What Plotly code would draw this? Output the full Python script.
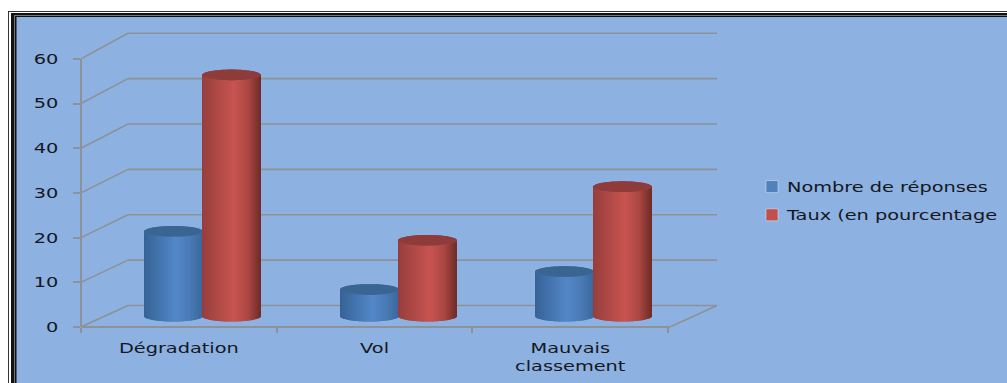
import math
import plotly.graph_objects as go

categories = ["Dégradation", "Vol", "Mauvais<br>classement"]
reponses = [19, 6, 10]
taux = [54, 17, 29]
y_ticks = [0, 10, 20, 30, 40, 50, 60]

WIDTH, HEIGHT = 1007, 383
LEFT, RIGHT, TOP, BOTTOM = 81, 717, 30, 327
UNIT_X = 195.7            # pixels per category
UNIT_Y = 4.47             # pixels per value unit

x_lo = -0.5
x_hi = x_lo + (RIGHT - LEFT) / UNIT_X
y_hi = (BOTTOM - TOP) / UNIT_Y
px_x = lambda p: (p - LEFT) / (RIGHT - LEFT)
px_y = lambda p: (BOTTOM - p) / (BOTTOM - TOP)

# Depth of the pseudo-3D box, in axis units
DEPTH_X = 47 / UNIT_X
DEPTH_Y = 21.5 / UNIT_Y
BACK_SCALE = 1.015
back = lambda v: v * BACK_SCALE + DEPTH_Y

RADIUS_X = 29 / UNIT_X
RADIUS_Y = 5.3 / UNIT_Y
STRIPS = 58


def mix(a, b, t):
    return "rgb(%d,%d,%d)" % tuple(round(a[i] + (b[i] - a[i]) * t) for i in range(3))


def ramp(stops, t):
    for (t0, c0), (t1, c1) in zip(stops, stops[1:]):
        if t <= t1:
            return mix(c0, c1, (t - t0) / (t1 - t0))
    return mix(stops[-1][1], stops[-1][1], 0)


BLUE_RAMP = [(0, (54, 98, 150)), (0.55, (82, 135, 200)), (0.8, (74, 122, 180)), (1, (58, 104, 158))]
RED_RAMP = [(0, (150, 62, 60)), (0.55, (200, 84, 80)), (0.8, (170, 70, 66)), (1, (112, 44, 42))]


def cylinders(values, side, stops, cap_color):
    """One bar strip per sliver of each cylinder, shaded across its width."""
    xs, bodies, bases, colors, cap_y, cap_base = [], [], [], [], [], []
    step = 2 * RADIUS_X / STRIPS
    for i, v in enumerate(values):
        centre = i + DEPTH_X / 2 + side * RADIUS_X
        for k in range(STRIPS):
            t = (k + 0.5) / STRIPS
            arc = RADIUS_Y * math.sqrt(1 - (2 * t - 1) ** 2)
            xs.append(centre - RADIUS_X + (k + 0.5) * step)
            bodies.append(v)
            bases.append(DEPTH_Y / 2 - arc)
            colors.append(ramp(stops, t))
            cap_y.append(2 * arc)
            cap_base.append(v + DEPTH_Y / 2 - arc)
    common = dict(x=xs, width=step * 1.1, showlegend=False, hoverinfo="skip")
    return [
        go.Bar(y=bodies, base=bases, marker=dict(color=colors, line_width=0), **common),
        go.Bar(y=cap_y, base=cap_base, marker=dict(color=cap_color, line_width=0), **common),
    ]


fig = go.Figure()
for trace in cylinders(reponses, -1, BLUE_RAMP, "#3a6593"):
    fig.add_trace(trace)
for trace in cylinders(taux, 1, RED_RAMP, "#8e3b39"):
    fig.add_trace(trace)

fig.add_trace(go.Bar(x=[None], y=[None], name="Nombre de réponses",
                     marker_color="#4f81bd", legendgroup="a"))
fig.add_trace(go.Bar(x=[None], y=[None], name="Taux (en pourcentage",
                     marker_color="#c0504d", legendgroup="b"))

GRID = "#8d9299"
shapes = []


def rect(x0, y0, x1, y1, color):
    shapes.append(dict(type="rect", xref="paper", yref="paper", layer="below",
                       x0=px_x(x0), x1=px_x(x1), y0=px_y(y0), y1=px_y(y1),
                       fillcolor=color, line_width=0))


# Page frame: nested thin and thick rules around the blue panel
rect(8, 11, 1010, 386, "#333333")
rect(9, 12, 1010, 386, "#ffffff")
rect(11, 13, 1010, 386, "#111111")
rect(14, 15, 1010, 386, "#777777")
rect(15, 16, 1010, 386, "#111111")
rect(16.5, 17, 1010, 386, "#8db1e1")

# Back wall and side wall of the box
for v in y_ticks:
    shapes.append(dict(type="line", xref="x", yref="y", layer="below",
                       x0=x_lo + DEPTH_X, x1=x_hi, y0=back(v), y1=back(v),
                       line=dict(color=GRID, width=1.6)))
    shapes.append(dict(type="line", xref="x", yref="y", layer="below",
                       x0=x_lo, x1=x_lo + DEPTH_X, y0=v, y1=back(v),
                       line=dict(color=GRID, width=1.6)))
shapes.append(dict(type="line", xref="x", yref="y", layer="below",
                   x0=x_hi - DEPTH_X, x1=x_hi, y0=0, y1=back(0),
                   line=dict(color=GRID, width=1.6)))
# Front edges of the floor and of the value axis
shapes.append(dict(type="line", xref="x", yref="paper", layer="below",
                   x0=x_lo, x1=x_hi - DEPTH_X, y0=0, y1=0,
                   line=dict(color=GRID, width=2)))
shapes.append(dict(type="line", xref="paper", yref="y", layer="below",
                   x0=0, x1=0, y0=0, y1=60,
                   line=dict(color=GRID, width=2)))

TEXT = dict(family="DejaVu Sans", size=14, color="#14181f")

fig.update_layout(
    width=WIDTH, height=HEIGHT,
    margin=dict(l=LEFT, r=WIDTH - RIGHT, t=TOP, b=HEIGHT - BOTTOM, autoexpand=False),
    paper_bgcolor="#ffffff", plot_bgcolor="rgba(0,0,0,0)",
    barmode="overlay", hovermode=False, shapes=shapes,
    font=TEXT,
    xaxis=dict(range=[x_lo, x_hi], tickvals=[0, 1, 2], ticktext=categories,
               showgrid=False, zeroline=False, showline=False, ticks="",
               ticklabelstandoff=11, tickangle=0, tickfont=TEXT,
               minor=dict(tickvals=[-0.5, 0.5, 1.5, 2.5], ticks="outside",
                          ticklen=5, tickcolor=GRID, tickwidth=2, showgrid=False)),
    yaxis=dict(range=[0, y_hi], tickvals=y_ticks, showgrid=False, zeroline=False,
               showline=False, ticks="outside", ticklen=7, tickcolor=GRID, tickwidth=2,
               ticklabelstandoff=12, tickfont=TEXT),
    legend=dict(x=px_x(752), y=px_y(171), xanchor="left", yanchor="top",
                bgcolor="rgba(0,0,0,0)", tracegroupgap=7, font=TEXT),
)

# The chart text is set wide: stretch each label about its own anchor point
stretch = """
document.querySelectorAll('.legend .scrollbox').forEach(function (el) {
  el.removeAttribute('clip-path');
});
document.querySelectorAll('.xtick text, .ytick text, .legendtext').forEach(function (el) {
  var cx = parseFloat(el.getAttribute('x')) || 0;
  var base = el.getAttribute('transform') || '';
  var nudge = el.classList.contains('legendtext') ? -5 : 0;
  el.setAttribute('transform', base + ' translate(' + (cx + nudge) + ',0) scale(1.38,1) translate(' + (-cx) + ',0)');
});
"""

fig.write_html("out.html", post_script=stretch, config={"displayModeBar": False})
